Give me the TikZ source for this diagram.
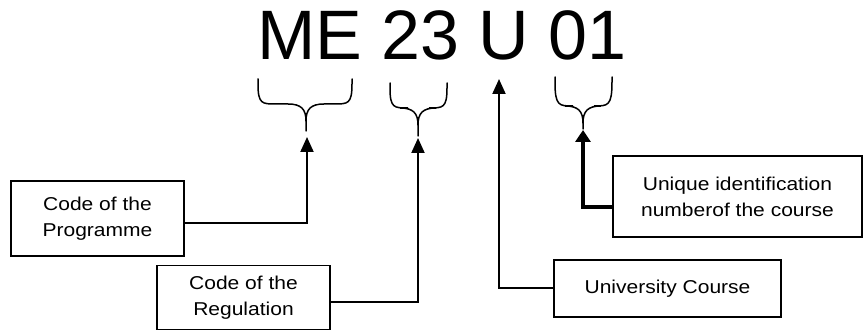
\documentclass[tikz,border=0pt]{standalone}
\usepackage{fontspec}
\setmainfont{Liberation Sans}
\newfontfamily\labelfont[FakeStretch=1.13]{Liberation Sans}
\usetikzlibrary{arrows.meta}
\begin{document}
\begin{tikzpicture}[x=1pt,y=-1pt,
  codebox/.style={draw,line width=1.4pt,inner sep=0pt,align=center,
    font=\labelfont\fontsize{18.6}{26}\selectfont},
  link/.style={line width=2pt,-{Triangle[length=15pt,width=13pt]}},
  thicklink/.style={line width=3.6pt,-{Triangle[length=12pt,width=15pt]}},
  brace/.style={line width=1.5pt,line cap=round}]
\useasboundingbox (0,0) rectangle (863,331);

% the course code
\node[anchor=base west,inner sep=0pt,font=\fontsize{70}{80}\selectfont] (code) at (257,60) {ME 23 U 01};

% braces under the code parts: left x, right x, top y, flat y, tip x, tip y
\newcommand\codebrace[6]{%
  \draw[brace] (#1,#3) -- (#1,#3+5) .. controls (#1,#4) and (#1+4,#4) .. (#1+18,#4)
    -- (#5-18,#4) .. controls (#5-5,#4) and (#5,#4+5) .. (#5,#4+17) -- (#5,#6);
  \draw[brace] (#2,#3) -- (#2,#3+5) .. controls (#2,#4) and (#2-4,#4) .. (#2-18,#4)
    -- (#5+18,#4) .. controls (#5+5,#4) and (#5,#4+5) .. (#5,#4+17);}
\codebrace{258}{352}{79}{104}{306}{131}
\codebrace{390}{447}{83}{108}{418}{136}
\codebrace{555}{612}{77}{106}{583}{129}

% arrow tips below the braces
\coordinate (progtip) at (307,137);
\coordinate (regtip) at (418,138);
\coordinate (unitip) at (499,79);
\coordinate (numtip) at (583,130);

% explanation boxes
\node[codebox,minimum width=173pt,minimum height=75pt] (prog) at (97.5,218.5) {Code of the\\Programme};
\node[codebox,minimum width=173pt,minimum height=64pt] (reg) at (243.5,297.5) {Code of the\\Regulation};
\node[codebox,minimum width=249pt,minimum height=81pt] (num) at (737.5,196.5) {Unique identification\\numberof the course};
\node[codebox,minimum width=227pt,minimum height=57pt] (uni) at (667.5,288.5) {University Course};

% connectors
\draw[link] ([yshift=-4.5pt]prog.east) -| (progtip);
\draw[link] ([yshift=-4.5pt]reg.east) -| (regtip);
\draw[link] (uni.west) -| (unitip);
\draw[thicklink] ([yshift=-10.5pt]num.west) -| (numtip);
\end{tikzpicture}
\end{document}
